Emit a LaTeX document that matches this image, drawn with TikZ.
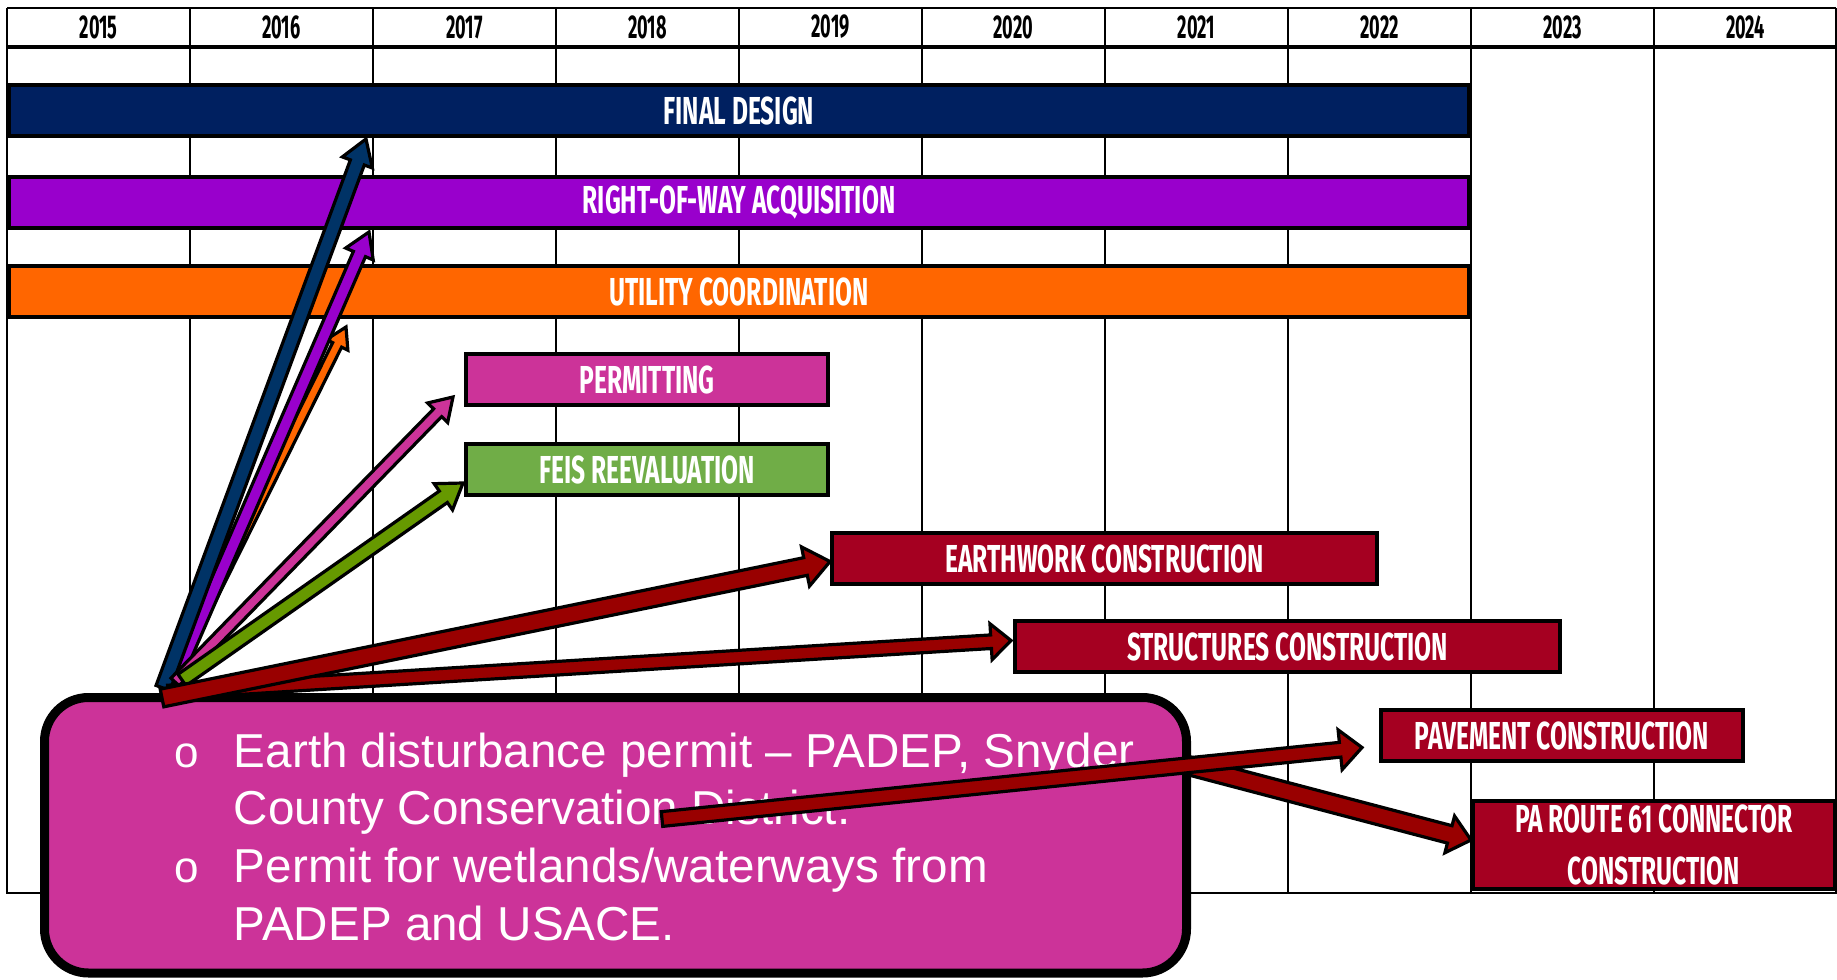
\documentclass[tikz,border=0pt]{standalone}
\usepackage{fontspec}
\setmainfont{Liberation Sans}
\newfontfamily\barfont[FakeStretch=0.63]{Fira Sans}
\newfontfamily\yearfont[FakeStretch=0.55]{Fira Sans}
\usetikzlibrary{calc,positioning}
\definecolor{DesignBlue}{RGB}{0,32,96}
\definecolor{ArrowBlue}{RGB}{0,51,102}
\definecolor{RowPurple}{RGB}{153,0,204}
\definecolor{UtilOrange}{RGB}{255,102,0}
\definecolor{PermitPink}{RGB}{204,51,153}
\definecolor{FeisGreen}{RGB}{112,173,71}
\definecolor{ArrowGreen}{RGB}{102,153,0}
\definecolor{BuildRed}{RGB}{165,0,33}
\definecolor{ArrowRed}{RGB}{153,0,0}

\tikzset{
  gridline/.style={line width=1.4pt},
  bar/.style={draw=black,line width=2pt,text=white,inner sep=0pt,anchor=north west,
    minimum height=25.5pt,font=\barfont\bfseries\fontsize{19.5}{26}\selectfont},
  yearlab/.style={inner sep=0pt,font=\yearfont\bfseries\fontsize{16.5}{18}\selectfont},
  callout/.style={draw=black,line width=4.5pt,fill=PermitPink,rounded corners=22pt,
    inner sep=0pt,text=white}
}

% colour, half shaft, half head, head length, tail, tip
\newcommand{\fatarrow}[6]{%
  \coordinate (fa-t) at #5;
  \coordinate (fa-p) at #6;
  \coordinate (fa-h) at ($(fa-p)!#4!(fa-t)$);
  \filldraw[fill=#1,draw=black,line width=1.6pt,line join=miter]
    ($(fa-t)!#2!90:(fa-p)$) -- ($(fa-h)!#2!90:(fa-p)$) -- ($(fa-h)!#3!90:(fa-p)$)
    -- (fa-p) -- ($(fa-h)!#3!-90:(fa-p)$) -- ($(fa-h)!#2!-90:(fa-p)$)
    -- ($(fa-t)!#2!-90:(fa-p)$) -- cycle;
}
\newcommand{\notebullet}{\leavevmode\llap{\makebox[29.5pt][l]{\fontsize{22}{22}\selectfont o}}}

\begin{document}
\begin{tikzpicture}[x=0.5pt,y=-0.5pt]
\useasboundingbox[fill=white] (0,0) rectangle (1837,980);

% year grid
\draw[gridline] (7,8) -- (1836,8);
\draw[line width=2.4pt] (7,47) -- (1836,47);
\foreach \k in {1,...,9}
  \draw[gridline] ({7+183*\k},8) -- ({7+183*\k},893);
\draw[gridline] (1836,8) -- (1836,893) -- (7,893) -- (7,8);
\foreach \yr [count=\i from 0] in {2015,...,2024}
  \node[yearlab] (y\yr) at ({98.5+183*\i},27) {\yr};

% phases
\node[bar,fill=DesignBlue,minimum width=730pt] (final) at (7,83) {FINAL DESIGN};
\node[bar,fill=RowPurple,minimum width=730pt] (row) at (7,175) {RIGHT-OF-WAY ACQUISITION};
\node[bar,fill=UtilOrange,minimum width=730pt] (util) at (7,264) {UTILITY COORDINATION};
\node[bar,fill=PermitPink,minimum width=181pt] (permit) at (464,352) {PERMITTING};
\node[bar,fill=FeisGreen,minimum width=181pt] (feis) at (464,442) {FEIS REEVALUATION};
\node[bar,fill=BuildRed,minimum width=272.5pt] (earth) at (830,531) {EARTHWORK CONSTRUCTION};
\node[bar,fill=BuildRed,minimum width=272.5pt] (struct) at (1013,619) {STRUCTURES CONSTRUCTION};
\node[bar,fill=BuildRed,minimum width=181pt] (pave) at (1379,708) {PAVEMENT CONSTRUCTION};
\node[bar,fill=BuildRed,minimum width=181pt,minimum height=44pt,align=center] (route)
  at (1471,799) {PA ROUTE 61 CONNECTOR\\CONSTRUCTION};

\coordinate (hub) at (165,690);
\coordinate (paveTail) at (662,819);
\coordinate (routeTail) at (1000,716);

\fatarrow{ArrowRed}{4.5pt}{9.5pt}{11pt}{(routeTail)}{($(route.west)+(0,-5)$)}

% permits note
\node[callout,minimum width=571pt,minimum height=137.75pt] (note) at (615.5,835.25)
  {\parbox[c][137.75pt][t]{571pt}{\raggedright\leftskip=94.75pt
   \fontsize{23.8}{28.85}\selectfont
   \rule{0pt}{34.75pt}\notebullet Earth disturbance permit -- PADEP, Snyder\\
   County Conservation District.\par
   \notebullet Permit for wetlands/waterways from\\
   PADEP and USACE.}};

\fatarrow{UtilOrange}{2.5pt}{6pt}{10pt}{($(hub)+(3,-4)$)}{($(util.south west)+(339,8)$)}
\fatarrow{RowPurple}{3.3pt}{7.5pt}{12pt}{($(hub)+(7,-4)$)}{($(row.south west)+(362,2)$)}
\fatarrow{ArrowBlue}{3.7pt}{8pt}{12.5pt}{($(hub)+(-2,-2)$)}{($(final.south west)+(359,1)$)}
\fatarrow{PermitPink}{2.8pt}{7pt}{11pt}{($(hub)+(10,-8)$)}{($(permit.south west)+(-11,-10)$)}
\fatarrow{ArrowGreen}{3.5pt}{8pt}{12pt}{($(hub)+(17,-10)$)}{($(feis.south west)+(-1,-14)$)}
\fatarrow{ArrowRed}{3.4pt}{9pt}{10pt}{($(hub)+(3,2)$)}{($(struct.west)+(-2,-6)$)}
\fatarrow{ArrowRed}{4.5pt}{10pt}{12.5pt}{($(hub)+(-3,8)$)}{($(earth.west)+(0,3)$)}
\fatarrow{ArrowRed}{3.7pt}{10pt}{11pt}{(paveTail)}{($(pave.west)+(-17,12)$)}
\end{tikzpicture}
\end{document}
